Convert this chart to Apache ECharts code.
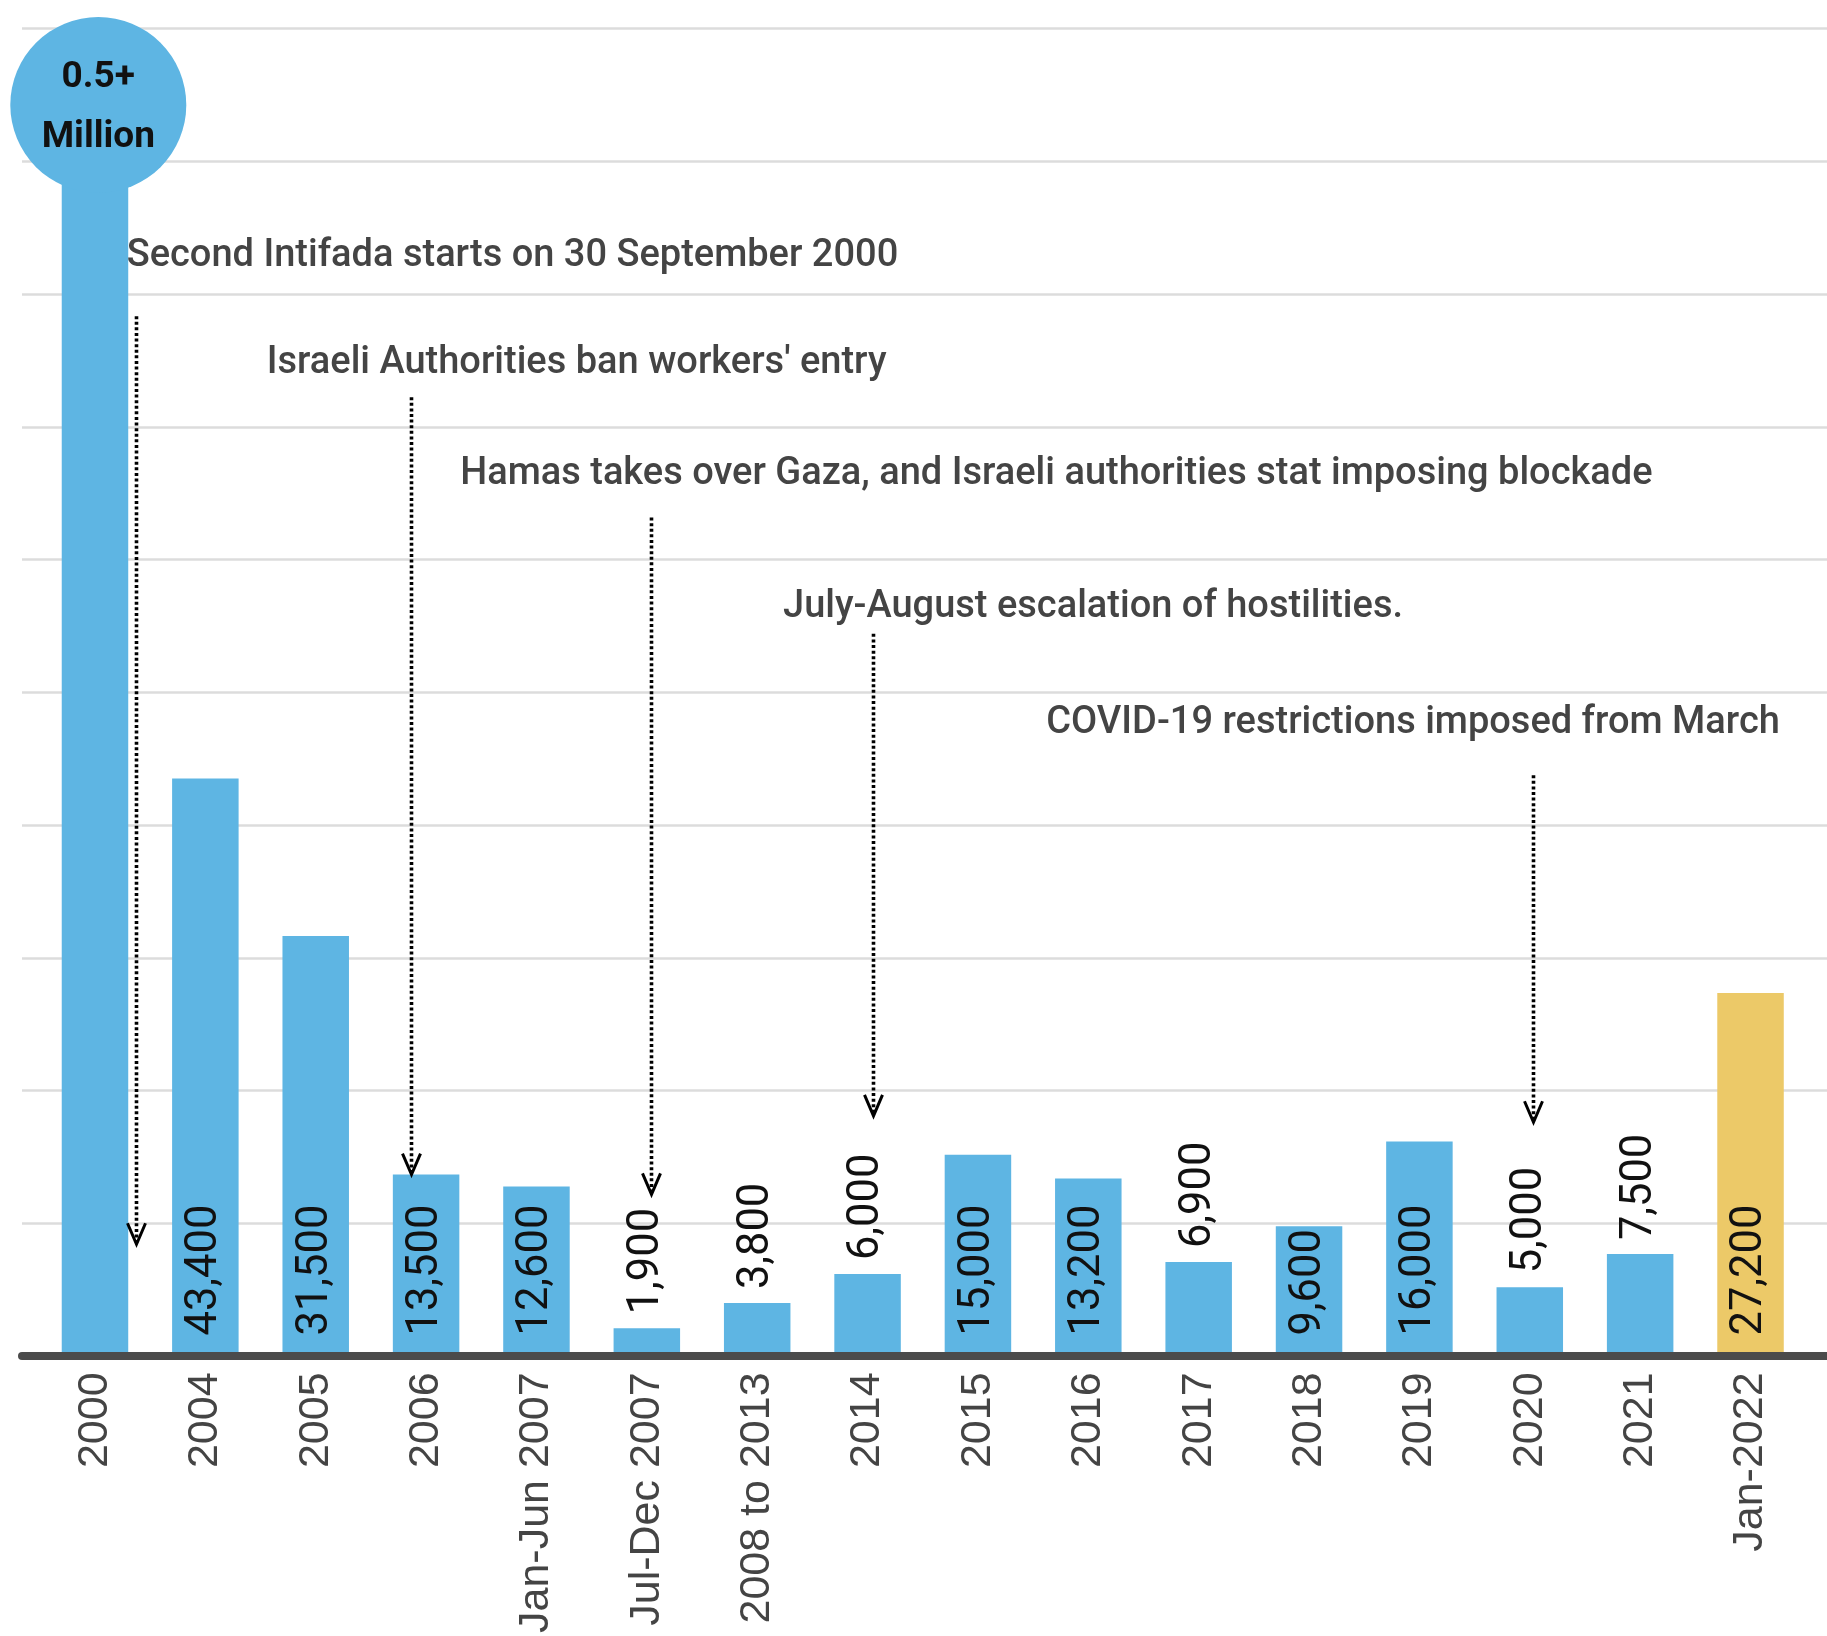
<!DOCTYPE html>
<html>
<head>
<meta charset="utf-8">
<script src="https://cdn.jsdelivr.net/npm/echarts@6/dist/echarts.min.js"></script>
<style>
html,body{margin:0;padding:0;background:#fff;}
#chart{width:1827px;height:1636px;}
</style>
</head>
<body>
<div id="chart"></div>
<script>
// ---- data ----
const categories = ['2000','2004','2005','2006','Jan-Jun 2007','Jul-Dec 2007','2008 to 2013','2014','2015','2016','2017','2018','2019','2020','2021','Jan-2022'];
const workers = [500000, 43400, 31500, 13500, 12600, 1900, 3800, 6000, 15000, 13200, 6900, 9600, 16000, 5000, 7500, 27200];
const highlightLast = [false,false,false,false,false,false,false,false,false,false,false,false,false,false,false,true];
const bigLabel = '0.5+\nMillion';

// annotations (anchors in axis units: x = category index, y = value)
const annoText = [
  'Second Intifada starts on 30 September 2000',
  "Israeli Authorities ban workers' entry",
  'Hamas takes over Gaza, and Israeli authorities stat imposing blockade',
  'July-August escalation of hostilities.',
  'COVID-19 restrictions imposed from March'
];
const annoArrowX = [0.37, 2.86, 5.04, 7.05, 13.03];
const annoArrowFrom = [78290, 72170, 63090, 54310, 43640];
const annoArrowTo = [8240, 13500, 12000, 17930, 17450];
const annoTextX = [0.287, 1.556, 3.309, 6.234, 8.619];
const annoTextY = [82810, 74750, 66320, 56300, 47540];

const yMax = 100000, yStep = 10000;

// ---- chart ----
const BLUE = '#5eb5e3', GOLD = '#ecc968';
const chart = echarts.init(document.getElementById('chart'));

const barData = workers.map((v, i) => {
  const inside = v >= 9000;
  return {
    value: v,
    itemStyle: { color: highlightLast[i] ? GOLD : BLUE },
    label: {
      show: i !== 0,
      position: inside ? 'insideBottom' : 'top',
      distance: inside ? 18 : 14
    }
  };
});

const annoData = annoText.map((t, i) => [annoArrowX[i], annoArrowFrom[i], annoArrowTo[i], annoTextX[i], annoTextY[i], i]);

chart.setOption({
  animation: false,
  grid: [
    { left: 22, right: 0, top: 28.5, bottom: 280 },
    { left: 39.8, right: 21.3, top: 28.5, bottom: 280 }
  ],
  xAxis: [
    { gridIndex: 0, type: 'value', min: 0, max: 1, z: 10,
      axisLine: { show: true, lineStyle: { color: '#4b4b4b', width: 8 } },
      axisTick: { show: false }, axisLabel: { show: false }, splitLine: { show: false } },
    { gridIndex: 1, type: 'category', data: categories,
      axisLine: { show: false }, axisTick: { show: false },
      axisLabel: { interval: 0, rotate: 90, margin: 19, fontSize: 43, color: '#444',
        fontFamily: 'Liberation Sans' } },
    { gridIndex: 1, type: 'value', min: -0.5, max: 15.5, show: false }
  ],
  yAxis: [
    { gridIndex: 0, type: 'value', min: 0, max: yMax, interval: yStep,
      axisLine: { show: false }, axisTick: { show: false }, axisLabel: { show: false },
      splitLine: { show: true, lineStyle: { color: '#dcdcdc', width: 2.5 } } },
    { gridIndex: 1, type: 'value', min: 0, max: yMax, interval: yStep, show: false,
      splitLine: { show: false } }
  ],
  series: [
    {
      type: 'bar', xAxisIndex: 1, yAxisIndex: 1, barWidth: 66.5, clip: true, z: 2,
      data: barData,
      label: {
        rotate: 90, align: 'left', verticalAlign: 'middle',
        fontFamily: 'Roboto', fontSize: 43.5, color: '#111',
        formatter: p => Number(p.value).toLocaleString('en-US')
      }
    },
    {
      type: 'scatter', xAxisIndex: 2, yAxisIndex: 1, z: 4,
      symbol: 'circle', symbolSize: 176,
      itemStyle: { color: BLUE, opacity: 1 },
      data: [[0.03, 94230]],
      label: {
        show: true, position: 'inside', formatter: bigLabel, offset: [0, 3],
        fontFamily: 'Roboto', fontWeight: 'bold', fontSize: 37, lineHeight: 60, color: '#111'
      }
    },
    {
      type: 'custom', xAxisIndex: 2, yAxisIndex: 1, z: 5, clip: false,
      encode: { x: [0, 3], y: [1, 2, 4] },
      data: annoData,
      renderItem: function (params, api) {
        const ax = api.value(0), from = api.value(1), to = api.value(2);
        const tx = api.value(3), ty = api.value(4), idx = api.value(5);
        const p1 = api.coord([ax, from]);
        const p2 = api.coord([ax, to]);
        const pt = api.coord([tx, ty]);
        const x = Math.round(p1[0]) + 0.5;
        return {
          type: 'group',
          children: [
            { type: 'line', shape: { x1: x, y1: p1[1], x2: x, y2: p2[1] - 2 },
              style: { stroke: '#000', lineWidth: 3.6, lineDash: [3, 2.6] } },
            { type: 'polyline', shape: { points: [[x - 9, p2[1] - 21], [x, p2[1]], [x + 9, p2[1] - 21]] },
              style: { stroke: '#000', lineWidth: 3, fill: null } },
            { type: 'text', x: pt[0], y: pt[1],
              style: { text: annoText[idx], fill: '#444', align: 'left', verticalAlign: 'middle',
                font: '500 38px Roboto' } }
          ]
        };
      }
    }
  ]
});
</script>
</body>
</html>
